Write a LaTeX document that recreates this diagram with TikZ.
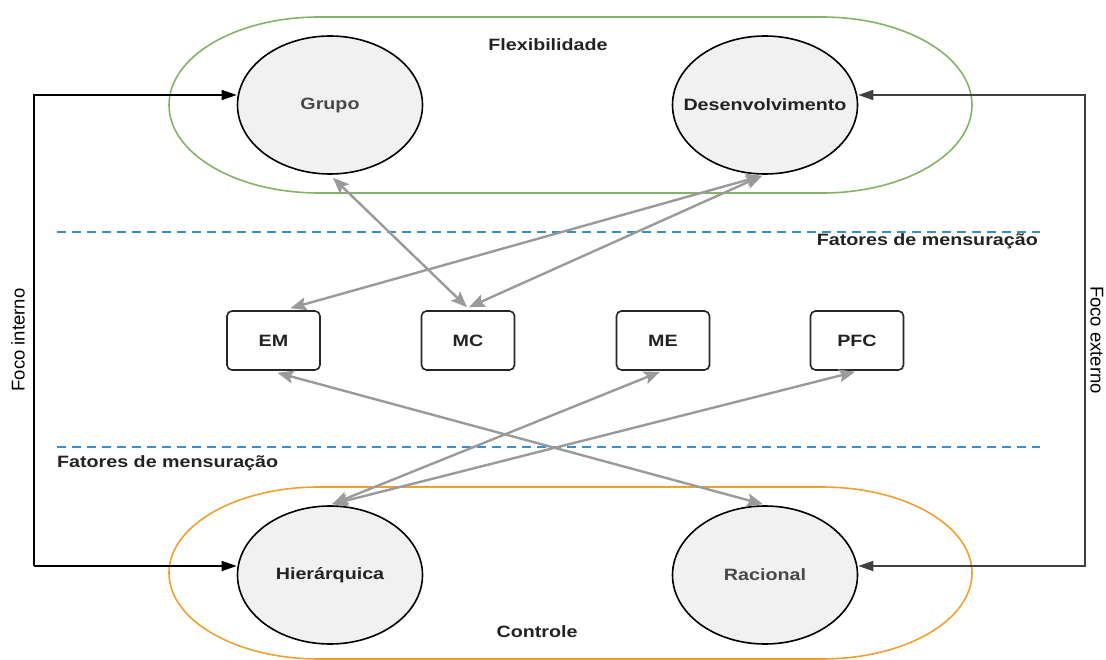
\documentclass[tikz,border=0pt]{standalone}
\usepackage{fontspec}
\setmainfont{Liberation Sans}
\newfontfamily\wide[FakeStretch=1.2]{Liberation Sans}
\usetikzlibrary{shapes.geometric,arrows.meta}
\definecolor{ellfill}{HTML}{F1F1F1}
\definecolor{grn}{HTML}{82B366}
\definecolor{org}{HTML}{F0A030}
\definecolor{dashblue}{HTML}{3A8FC8}
\definecolor{arrgray}{HTML}{9A9A9A}
\definecolor{darkline}{HTML}{404040}
\definecolor{txt}{HTML}{222222}
\definecolor{txtgray}{HTML}{484848}
\begin{document}
\begin{tikzpicture}[x=1pt,y=-1pt,
  wfont/.style={font=\wide\bfseries\fontsize{16.4}{19}\selectfont},
  oval/.style={ellipse, draw=black, line width=1.6pt, fill=ellfill, minimum width=185pt, minimum height=138pt, inner sep=0pt, wfont},
  box/.style={rectangle, rounded corners=5pt, draw=black!85, line width=1.6pt, fill=white, minimum width=93pt, minimum height=59pt, inner sep=0pt, wfont, text=txt},
  lbl/.style={inner sep=0pt, wfont, text=txt},
  sidelbl/.style={inner sep=0pt, font=\fontsize{18.5}{20}\selectfont, text=black},
  garrow/.style={draw=arrgray, line width=2.4pt, {Stealth[length=16pt,width=13pt,inset=3pt]}-{Stealth[length=16pt,width=13pt,inset=3pt]}},
  blkarrow/.style={draw=black, line width=1.5pt, -{Triangle[length=15pt,width=10pt]}},
  grayarrow/.style={draw=darkline, line width=1.8pt, -{Triangle[length=15pt,width=10pt]}},
  sep/.style={draw=dashblue, line width=2pt, dash pattern=on 9pt off 6pt},
]
\useasboundingbox (0,0) rectangle (1106,660);

% group outlines
\draw[grn, line width=1.6pt] (319,17) -- (822,17)
  arc[start angle=90, end angle=-90, x radius=150pt, y radius=88pt]
  -- (319,193)
  arc[start angle=270, end angle=90, x radius=150pt, y radius=88pt] -- cycle;
\draw[org, line width=1.6pt] (319,487) -- (822,487)
  arc[start angle=90, end angle=-90, x radius=150pt, y radius=86pt]
  -- (319,659)
  arc[start angle=270, end angle=90, x radius=150pt, y radius=86pt] -- cycle;

% dashed separators
\coordinate (s1a) at (57,232); \coordinate (s1b) at (1040,232);
\coordinate (s2a) at (57,447); \coordinate (s2b) at (1040,447);
\draw[sep] (s1a) -- (s1b);
\draw[sep] (s2a) -- (s2b);

% labels
\node[lbl] (flex) at (548,45) {Flexibilidade};
\node[lbl] (ctrl) at (537,632) {Controle};
\node[lbl, anchor=east] (fm1) at (1038,241) {Fatores de mensuração};
\node[lbl, anchor=west] (fm2) at (57,463) {Fatores de mensuração};
\node[sidelbl, rotate=90] (fi) at (18,340) {Foco interno};
\node[sidelbl, rotate=-90] (fe) at (1097,340) {Foco externo};

% ellipses
\node[oval, text=txtgray] (grupo) at (330,105) {\makebox[0pt]{Grupo}};
\node[oval, text=txt] (desenv) at (765,105) {\makebox[0pt]{Desenvolvimento}};
\node[oval, text=txt] (hier) at (330,575) {\makebox[0pt]{Hierárquica}};
\node[oval, text=txtgray] (rac) at (765,575) {\makebox[0pt]{Racional}};

% boxes
\node[box] (em) at (273.5,340.5) {EM};
\node[box] (mc) at (468,340.5) {MC};
\node[box] (me) at (663,340.5) {ME};
\node[box] (pfc) at (857,340.5) {PFC};

% side connectors
\coordinate (lt) at (34,95); \coordinate (lb) at (34,566);
\coordinate (rt) at (1085,95); \coordinate (rb) at (1085,566);
\draw[blkarrow] (lb) -- (lt) -- ([yshift=10pt]grupo.west);
\draw[blkarrow] (lb) -- ([yshift=9pt]hier.west);
\draw[grayarrow] (rb) -- (rt) -- ([yshift=10pt]desenv.east);
\draw[grayarrow] (rt) -- (rb) -- ([yshift=9pt]rac.east);

% gray double arrows
\draw[garrow] ([xshift=3pt,yshift=-3pt]grupo.south) -- ([xshift=-1pt,yshift=3pt]mc.north);
\draw[garrow] ([xshift=-3pt,yshift=-1pt]desenv.south) -- ([xshift=17pt,yshift=2pt]em.north);
\draw[garrow] ([xshift=-3pt,yshift=-1pt]desenv.south) -- ([xshift=1pt,yshift=3pt]mc.north);
\draw[garrow] ([xshift=2pt,yshift=1pt]hier.north) -- ([xshift=-3pt,yshift=-1pt]me.south);
\draw[garrow] ([xshift=2pt,yshift=1pt]hier.north) -- ([xshift=-2pt,yshift=-1pt]pfc.south);
\draw[garrow] ([xshift=4pt,yshift=-2pt]em.south) -- ([xshift=-2pt,yshift=1pt]rac.north);
\end{tikzpicture}
\end{document}
